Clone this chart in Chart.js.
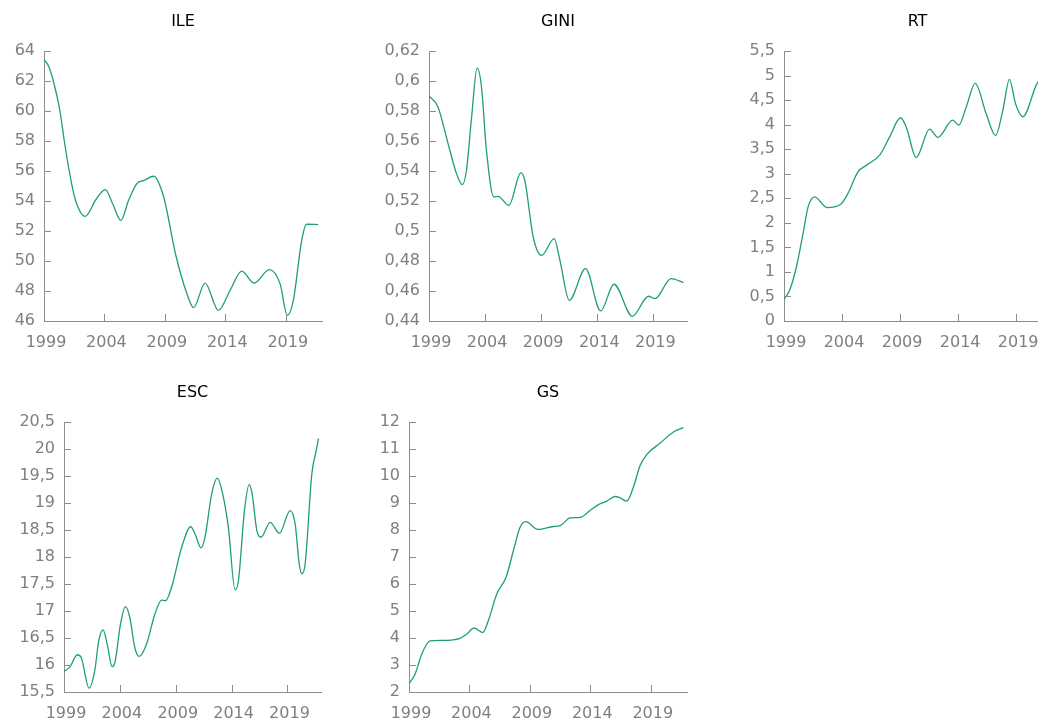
<!DOCTYPE html>
<html>
<head>
<meta charset="utf-8">
<script src="https://cdn.jsdelivr.net/npm/chart.js@4.4.1/dist/chart.umd.min.js"></script>
<style>
  html, body { margin: 0; padding: 0; background: #fff; width: 1038px; height: 718px; overflow: hidden; position: relative; }
  canvas { position: absolute; }
</style>
</head>
<body>
<canvas id="c-ile"></canvas>
<canvas id="c-gini"></canvas>
<canvas id="c-rt"></canvas>
<canvas id="c-esc"></canvas>
<canvas id="c-gs"></canvas>
<script>
// x axis labels shared by all panels
const xTickYears = [1999, 2004, 2009, 2014, 2019];

// values (year, value)
const ileYears = [1999, 1999.4, 1999.77, 2000.32, 2000.68, 2001.09, 2001.55, 2002.41, 2003.3, 2004.07, 2004.7, 2005.36, 2006.0, 2006.68, 2007.3, 2008.06, 2008.9, 2009.9, 2010.82, 2011.37, 2012.33, 2013.43, 2014.4, 2015.36, 2016.38, 2017.65, 2018.53, 2019.13, 2019.63, 2020.32, 2020.73, 2021.69];
const ileValues = [63.45, 62.95, 62.0, 60.0, 58.0, 56.0, 54.2, 52.98, 54.1, 54.76, 53.78, 52.71, 54.05, 55.16, 55.38, 55.65, 54.27, 50.4, 47.83, 46.89, 48.53, 46.71, 48.05, 49.33, 48.53, 49.43, 48.49, 46.38, 47.38, 51.38, 52.45, 52.43];

const giniYears = [1999, 1999.8, 2000.7, 2001.45, 2001.98, 2002.34, 2002.8, 2003.29, 2003.68, 2004.12, 2004.78, 2005.16, 2006.12, 2007.19, 2007.54, 2008.29, 2009.04, 2010.16, 2010.67, 2011.5, 2012.96, 2014.3, 2015.49, 2017.13, 2018.56, 2019.15, 2020.58, 2021.68];
const giniValues = [0.59, 0.5827, 0.5583, 0.5383, 0.5309, 0.5405, 0.576, 0.6087, 0.596, 0.5538, 0.5227, 0.5231, 0.5171, 0.5387, 0.5338, 0.496, 0.4838, 0.4949, 0.4805, 0.4538, 0.4749, 0.4467, 0.4645, 0.4431, 0.4565, 0.4549, 0.4683, 0.4656];

const rtYears = [1999, 1999.49, 2000.07, 2000.64, 2001.07, 2001.64, 2002.7, 2003.94, 2004.51, 2005.37, 2006.09, 2007.24, 2008.1, 2009.04, 2009.53, 2010.39, 2011.54, 2012.25, 2013.54, 2014.06, 2014.7, 2015.47, 2016.42, 2017.22, 2017.85, 2018.42, 2018.94, 2019.57, 2020.72, 2021.7];
const rtValues = [0.44, 0.63, 1.10, 1.78, 2.32, 2.53, 2.31, 2.39, 2.60, 3.04, 3.17, 3.38, 3.75, 4.14, 3.95, 3.33, 3.91, 3.74, 4.09, 3.99, 4.36, 4.84, 4.22, 3.78, 4.29, 4.92, 4.43, 4.16, 4.80, 5.2];

const escYears = [1999, 1999.51, 2000.2, 2000.56, 2001.24, 2001.75, 2002.11, 2002.5, 2002.86, 2003.31, 2003.55, 2004.06, 2004.5, 2004.89, 2005.34, 2005.73, 2006.39, 2007.13, 2007.73, 2008.09, 2008.63, 2009.53, 2010.34, 2010.72, 2011.26, 2011.62, 2012.22, 2012.72, 2013.2, 2013.71, 2014.31, 2014.61, 2015.15, 2015.57, 2015.81, 2016.26, 2016.64, 2017.45, 2018.28, 2019.24, 2019.69, 2020.05, 2020.29, 2020.58, 2021.18, 2021.57, 2021.78];
const escValues = [15.88, 15.96, 16.19, 16.13, 15.57, 15.89, 16.45, 16.65, 16.39, 15.97, 16.04, 16.76, 17.08, 16.88, 16.32, 16.16, 16.39, 16.94, 17.20, 17.19, 17.44, 18.18, 18.56, 18.43, 18.17, 18.37, 19.17, 19.46, 19.17, 18.55, 17.39, 17.56, 18.86, 19.34, 19.20, 18.49, 18.37, 18.64, 18.44, 18.86, 18.61, 17.87, 17.69, 17.87, 19.54, 19.97, 20.19];

const gsYears = [1999, 1999.5, 2000.05, 2000.74, 2001.84, 2003.22, 2003.77, 2004.38, 2005.1, 2005.56, 2006.26, 2007.03, 2007.64, 2008.19, 2008.66, 2009.65, 2010.95, 2011.5, 2012.33, 2013.16, 2013.98, 2014.67, 2015.37, 2016.05, 2016.47, 2017.02, 2017.57, 2018.12, 2018.68, 2019.78, 2020.88, 2021.71];
const gsValues = [2.31, 2.66, 3.40, 3.89, 3.91, 3.99, 4.14, 4.37, 4.20, 4.64, 5.63, 6.25, 7.24, 8.10, 8.31, 8.02, 8.13, 8.16, 8.45, 8.47, 8.72, 8.94, 9.07, 9.24, 9.19, 9.07, 9.59, 10.39, 10.80, 11.22, 11.63, 11.79];

const FONT = "'DejaVu Sans', Verdana, sans-serif";
const LINE = '#1f9e78';
const AXIS = '#8c8c8c';
const TICKTXT = '#7f7f7f';

// numbers with decimal comma, like the source
const comma = v => String(+v.toFixed(2)).replace('.', ',');

// tick marks point into the plot (Excel "inside" style)
const innerTicks = {
  id: 'innerTicks',
  afterDraw(chart) {
    const { ctx, chartArea: a } = chart;
    const len = 7;
    ctx.save();
    ctx.strokeStyle = AXIS;
    ctx.lineWidth = 1;
    ctx.beginPath();
    chart.scales.x.ticks.forEach(t => {
      const px = Math.round(chart.scales.x.getPixelForValue(t.value)) + 0.5;
      ctx.moveTo(px, a.bottom);
      ctx.lineTo(px, a.bottom - len);
    });
    chart.scales.y.ticks.forEach(t => {
      const py = Math.round(chart.scales.y.getPixelForValue(t.value)) + 0.5;
      ctx.moveTo(a.left, py);
      ctx.lineTo(a.left + len, py);
    });
    ctx.stroke();
    ctx.restore();
  }
};

function makePanel(id, cfg) {
  const cv = document.getElementById(id);
  const yAxisW = 60, rightPad = 10, topH = 51, plotH = 270, xAxisH = 45;
  cv.width = yAxisW + (cfg.right - cfg.left) + rightPad;
  cv.height = topH + plotH + xAxisH;
  cv.style.left = (cfg.left - yAxisW) + 'px';
  cv.style.top = (cfg.top - topH) + 'px';

  new Chart(cv, {
    type: 'line',
    data: {
      datasets: [{
        data: cfg.xs.map((x, i) => ({ x: x, y: cfg.ys[i] })),
        borderColor: LINE,
        borderWidth: 1.3,
        pointRadius: 0,
        fill: false,
        cubicInterpolationMode: 'monotone'
      }]
    },
    plugins: [innerTicks],
    options: {
      responsive: false,
      animation: false,
      events: [],
      layout: { padding: { left: 0, right: rightPad, top: 0, bottom: 0 } },
      plugins: {
        legend: { display: false },
        tooltip: { enabled: false },
        title: {
          display: true,
          text: cfg.title,
          fullSize: false,
          color: '#000',
          font: { family: FONT, size: 16, weight: 'normal', lineHeight: 1.2 },
          padding: { top: 12, bottom: topH - 12 - 19.2 }
        }
      },
      scales: {
        x: {
          type: 'linear',
          min: 1999,
          max: 2022,
          afterBuildTicks: s => { s.ticks = xTickYears.map(v => ({ value: v })); },
          afterFit: s => { s.height = xAxisH; },
          border: { display: true, color: AXIS, width: 1 },
          grid: { display: false, drawTicks: false },
          ticks: {
            color: TICKTXT, padding: 12, labelOffset: 2, maxRotation: 0, autoSkip: false,
            font: { family: FONT, size: 16 },
            callback: v => String(v)
          }
        },
        y: {
          min: cfg.min,
          max: cfg.max,
          afterFit: s => { s.width = yAxisW; },
          border: { display: true, color: AXIS, width: 1 },
          grid: { display: false, drawTicks: false },
          ticks: {
            stepSize: cfg.step, color: TICKTXT, padding: 9,
            font: { family: FONT, size: 16 },
            callback: v => comma(v)
          }
        }
      }
    }
  });
}

makePanel('c-ile',  { title: 'ILE',  xs: ileYears,  ys: ileValues,  min: 46,   max: 64,   step: 2,    left: 44,  right: 322,  top: 51 });
makePanel('c-gini', { title: 'GINI', xs: giniYears, ys: giniValues, min: 0.44, max: 0.62, step: 0.02, left: 429, right: 687,  top: 51 });
makePanel('c-rt',   { title: 'RT',   xs: rtYears,   ys: rtValues,   min: 0,    max: 5.5,  step: 0.5,  left: 784, right: 1051, top: 51 });
makePanel('c-esc',  { title: 'ESC',  xs: escYears,  ys: escValues,  min: 15.5, max: 20.5, step: 0.5,  left: 64,  right: 321,  top: 422 });
makePanel('c-gs',   { title: 'GS',   xs: gsYears,   ys: gsValues,   min: 2,    max: 12,   step: 1,    left: 409, right: 687,  top: 422 });
</script>
</body>
</html>
